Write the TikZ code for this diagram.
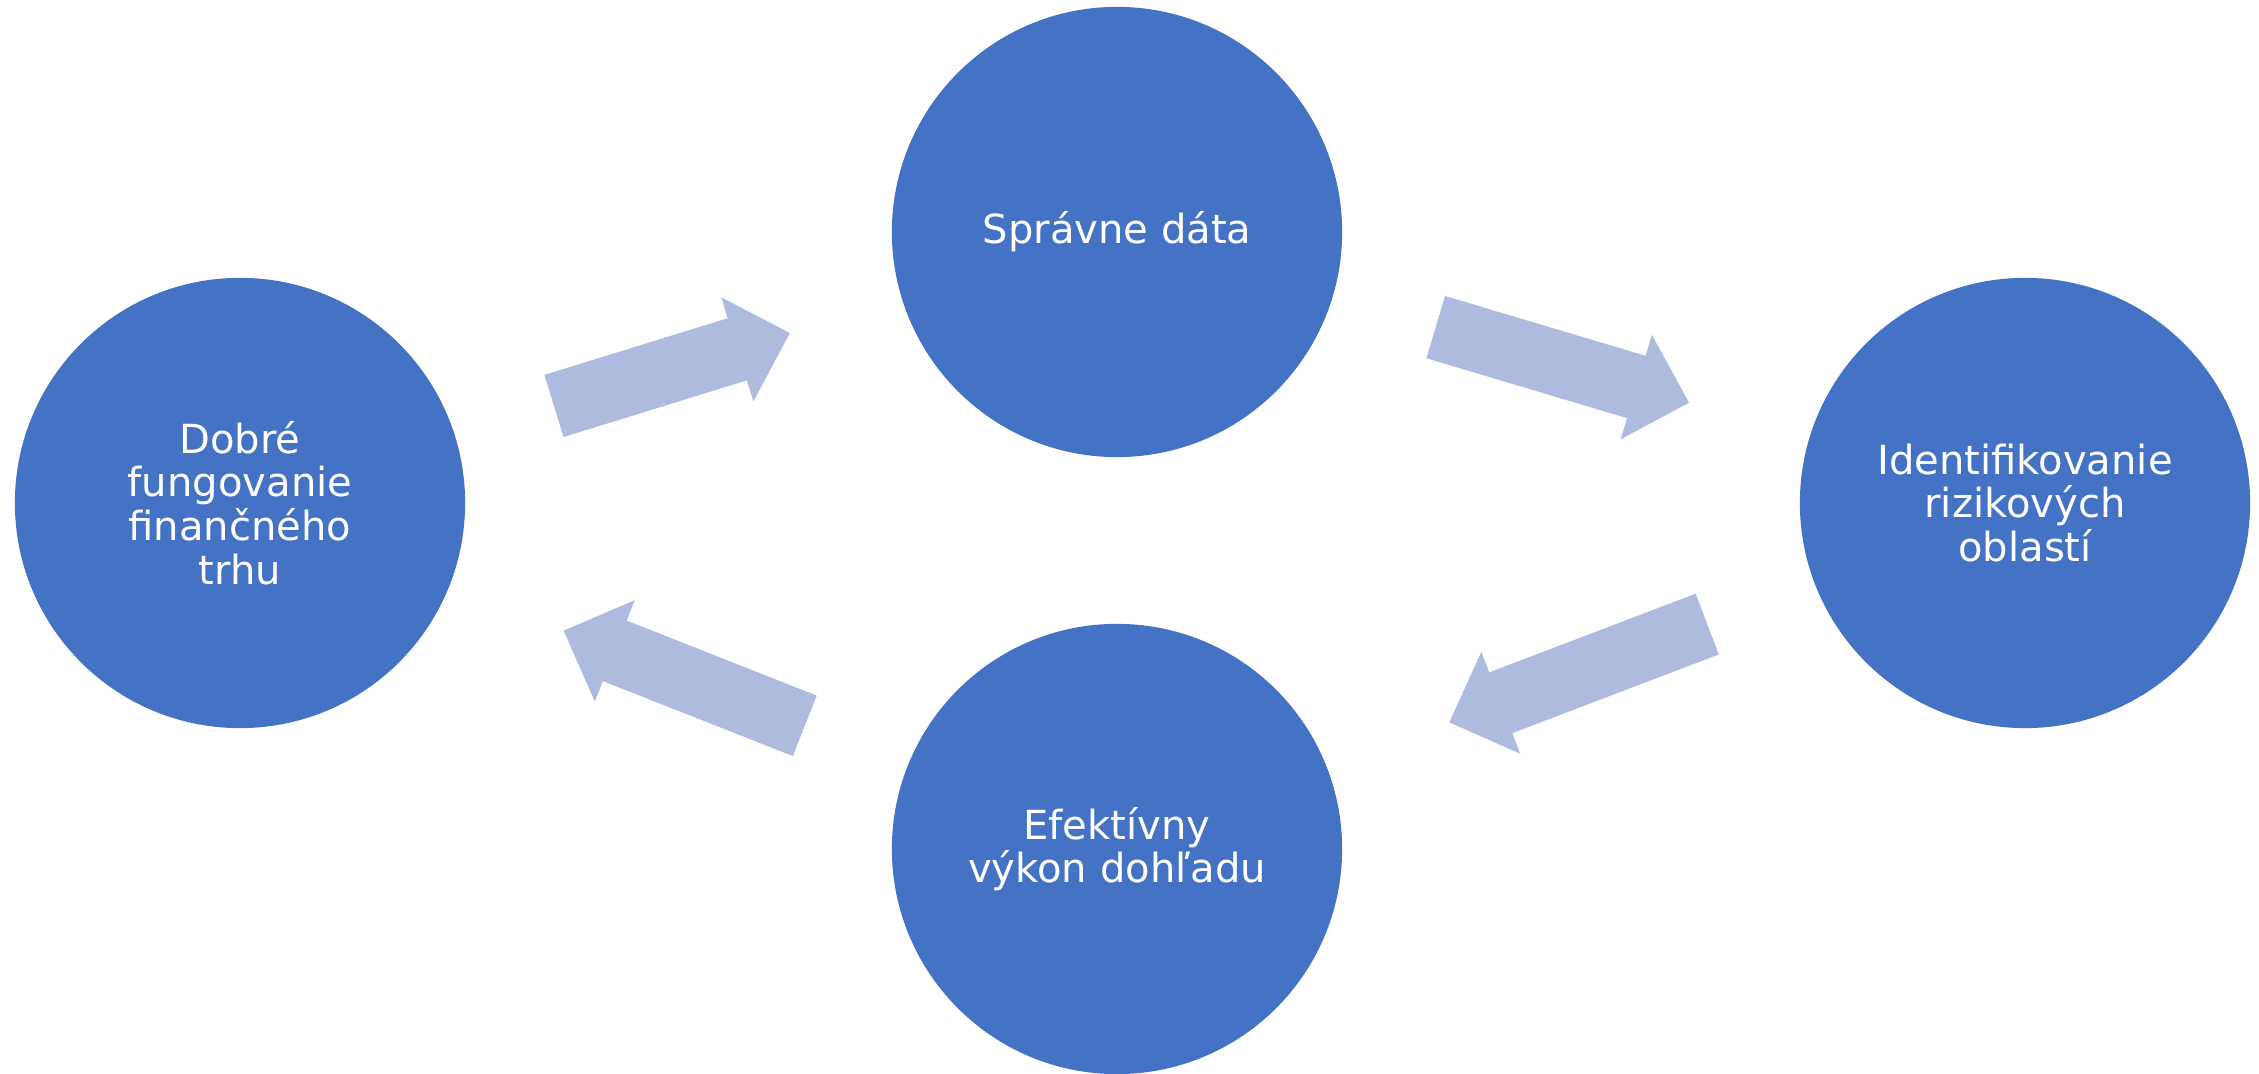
\documentclass[tikz,border=0pt]{standalone}
\usepackage{fontspec}
\setmainfont{DejaVu Sans}
\usetikzlibrary{calc}
\definecolor{modra}{HTML}{4472C4}
\definecolor{svetlomodra}{HTML}{AFBADF}
\tikzset{
  kruh/.style={circle,fill=modra,minimum size=4.5cm,inner sep=0pt,text=white,
    align=center,font=\fontsize{11.4}{12.4}\selectfont},
  sipka/.style={fill=svetlomodra}
}
% hruba sipka medzi dvoma kruhmi: {od}{do}{zaciatok}{koniec}
\newcommand{\sipka}[4]{%
  \coordinate (z) at ($(#1)!#3!(#2)$);
  \coordinate (k) at ($(#1)!#4!(#2)$);
  \coordinate (h) at ($(k)!0.55cm!(z)$);
  \fill[sipka] ($(z)!0.325cm!90:(k)$) -- ($(h)!0.325cm!-90:(z)$)
    -- ($(h)!0.545cm!-90:(z)$) -- (k) -- ($(h)!0.545cm!90:(z)$)
    -- ($(h)!0.325cm!90:(z)$) -- ($(z)!0.325cm!-90:(k)$) -- cycle;}
\begin{document}
\begin{tikzpicture}[x=0.01cm,y=-0.01cm]
\useasboundingbox (0,0) rectangle (2259,1074);
\node[kruh] (trh) at (240,503) {Dobré\\fungovanie\\finančného\\trhu};
\node[kruh] (data) at (1117,232) {Správne dáta};
\node[kruh] (rizika) at (2025,503) {Identifikovanie\\rizikových\\oblastí};
\node[kruh] (dohlad) at (1117,849) {Efektívny\\výkon dohľadu};
\sipka{trh}{data}{0.358}{0.627}
\sipka{data}{rizika}{0.351}{0.630}
\sipka{rizika}{dohlad}{0.350}{0.634}
\sipka{dohlad}{trh}{0.356}{0.631}
\end{tikzpicture}
\end{document}
